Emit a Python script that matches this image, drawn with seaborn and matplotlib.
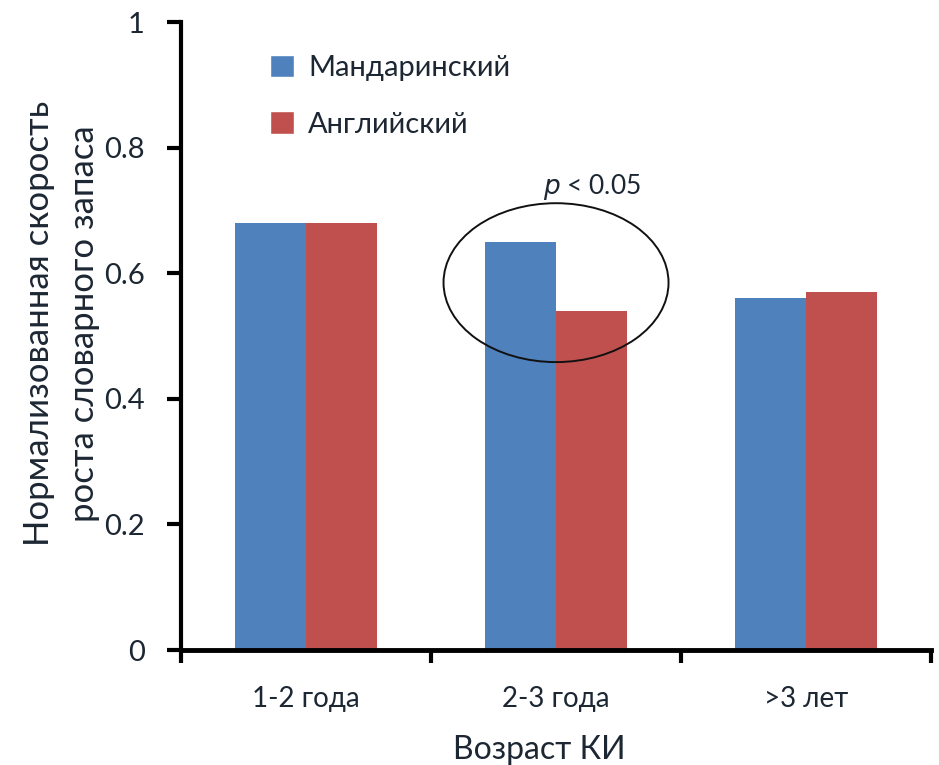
import matplotlib
matplotlib.use("Agg")
import matplotlib.pyplot as plt
from matplotlib.patches import Ellipse, Patch
import seaborn as sns
import pandas as pd

categories = ["1-2 года", "2-3 года", ">3 лет"]
mandarin = [0.68, 0.65, 0.56]
english = [0.68, 0.54, 0.57]
series_names = ["Мандаринский", "Английский"]
yticks = [0, 0.2, 0.4, 0.6, 0.8, 1]
ytick_labels = ["0", "0.2", "0.4", "0.6", "0.8", "1"]

df = pd.DataFrame({
    "cat": categories * 2,
    "val": mandarin + english,
    "lang": [series_names[0]] * 3 + [series_names[1]] * 3,
})

sns.set_theme(style="white")
plt.rcParams["font.family"] = ["Lato", "DejaVu Sans"]
text_color = "#1c2733"

fig = plt.figure(figsize=(9.39, 7.65), dpi=100)
ax = fig.add_axes([0.1928, 0.1503, 0.7987, 0.8209])

sns.barplot(data=df, x="cat", y="val", hue="lang", order=categories,
            hue_order=series_names, palette=["#4F81BD", "#C0504D"],
            width=0.57, gap=0, saturation=1, ax=ax, legend=False,
            edgecolor="none", linewidth=0)

ax.set_ylim(0, 1)
ax.set_xlim(-0.5, 2.5)
ax.set_yticks(yticks)
ax.set_yticklabels(ytick_labels)
ax.set_xticks([-0.5, 0.5, 1.5, 2.5], minor=False)
ax.set_xticklabels([])
ax.set_xticks([0, 1, 2], minor=True)
ax.set_xticklabels(categories, minor=True)
ax.tick_params(axis="x", which="major", direction="out", length=9, width=3, color="black")
ax.tick_params(axis="x", which="minor", length=0, pad=26, labelsize=20, labelcolor=text_color)
ax.tick_params(axis="y", direction="out", length=10, width=3, color="black",
               labelsize=21, labelcolor=text_color, pad=16)
ax.yaxis.set_ticks_position("left")
ax.xaxis.set_ticks_position("bottom")

for s in ["top", "right"]:
    ax.spines[s].set_visible(False)
ax.spines["left"].set_linewidth(3)
ax.spines["bottom"].set_linewidth(3.5)
ax.spines["left"].set_color("black")
ax.spines["bottom"].set_color("black")

ax.set_xlabel("Возраст КИ", fontsize=23, color=text_color)
ax.xaxis.set_label_coords(0.477, -0.135)
ax.set_ylabel("Нормализованная скорость\nроста словарного запаса", fontsize=25,
              color=text_color, linespacing=1.5)
ax.yaxis.set_label_coords(-0.108, 0.52)

handles = [Patch(facecolor="#4F81BD"), Patch(facecolor="#C0504D")]
leg = ax.legend(handles, series_names, loc="upper left", bbox_to_anchor=(0.084, 0.99),
                frameon=False, fontsize=21, handlelength=0.8, handleheight=0.8,
                handletextpad=0.5, labelspacing=1.05, labelcolor=text_color)

ell = Ellipse((1.0, 0.585), 0.9, 0.253, fill=False, edgecolor="#111111", linewidth=1.4)
ax.add_patch(ell)
ax.text(1.144, 0.737, r"$p$ < 0.05", ha="center", va="center", fontsize=19, color=text_color)

fig.savefig("out.png", dpi=100)
